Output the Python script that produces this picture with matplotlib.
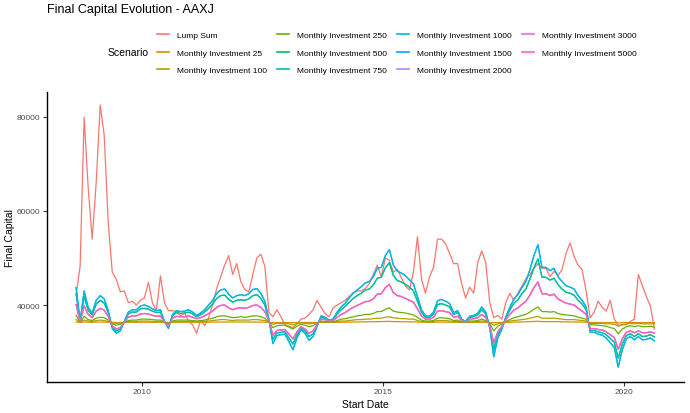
"""Final capital by start date: lump sum vs monthly investment scenarios (AAXJ)"""
import matplotlib
matplotlib.use('Agg')
import matplotlib.pyplot as plt
from matplotlib.lines import Line2D
import numpy as np

plt.rcParams['font.family'] = ['Liberation Sans', 'DejaVu Sans']

# start dates: monthly, Aug 2008 .. Aug 2020 (decimal years)
start_year = 2008.63
n_months = 145

lump_sum = [42000, 48300, 79900, 65000, 54000, 66000, 82500, 76000, 57500, 47000,
            45500, 42800, 43000, 40500, 40800, 40000, 41000, 41500, 44800, 40500,
            38800, 46200, 40500, 38800, 38800, 38600, 37700, 38300, 36600, 35800,
            34000, 36700, 35600, 37300, 40000, 43500, 46000, 48500, 50500, 46500,
            48800, 45000, 43300, 42800, 46500, 50000, 50800, 48200, 38500, 37500,
            39000, 37500, 35800, 35500, 35200, 36000, 37000, 37200, 38000, 39000,
            41000, 39500, 38200, 37500, 39400, 40000, 40500, 41000, 41800, 42600,
            43000, 43000, 43500, 44500, 46500, 48500, 46000, 50000, 49500, 47000,
            47600, 45800, 44000, 43200, 47000, 54500, 45500, 42500, 46000, 48000,
            54000, 54000, 53000, 51000, 48800, 48800, 44500, 41500, 43800, 42500,
            49000, 51500, 49000, 40500, 37300, 37800, 37000, 40500, 42500, 41000,
            42500, 44000, 45600, 46500, 47800, 48800, 47800, 47800, 46000, 47200,
            46300, 47500, 51000, 53200, 50300, 48500, 47500, 43000, 37300, 38500,
            40800, 39500, 38700, 41000, 37000, 35700, 35800, 35800, 36500, 37000,
            46500, 44100, 41800, 39800, 34900]

mi_25 = [36410, 36300, 36400, 36350, 36330, 36370, 36390, 36380, 36340, 36290,
         36280, 36280, 36300, 36330, 36340, 36340, 36350, 36360, 36350, 36340,
         36340, 36340, 36300, 36290, 36330, 36340, 36330, 36340, 36340, 36330,
         36320, 36330, 36340, 36360, 36370, 36390, 36400, 36410, 36390, 36380,
         36390, 36390, 36390, 36390, 36410, 36410, 36390, 36370, 36310, 36250,
         36270, 36270, 36280, 36260, 36240, 36270, 36290, 36280, 36260, 36270,
         36290, 36320, 36320, 36310, 36310, 36330, 36350, 36360, 36380, 36390,
         36400, 36410, 36430, 36430, 36450, 36470, 36480, 36510, 36530, 36480,
         36460, 36460, 36450, 36440, 36420, 36380, 36340, 36320, 36320, 36330,
         36370, 36370, 36370, 36360, 36330, 36340, 36310, 36300, 36320, 36320,
         36330, 36350, 36330, 36290, 36230, 36270, 36290, 36320, 36350, 36380,
         36390, 36410, 36430, 36470, 36510, 36550, 36480, 36480, 36470, 36470,
         36450, 36430, 36420, 36410, 36410, 36390, 36370, 36350, 36280, 36280,
         36280, 36270, 36270, 36260, 36250, 36200, 36240, 36270, 36270, 36260,
         36270, 36260, 36260, 36270, 36260]

mi_100 = [36900, 36300, 36800, 36600, 36500, 36700, 36800, 36700, 36500, 36200,
          36100, 36150, 36300, 36500, 36500, 36500, 36600, 36600, 36600, 36500,
          36500, 36500, 36300, 36200, 36400, 36500, 36500, 36500, 36500, 36500,
          36400, 36500, 36500, 36600, 36700, 36800, 36900, 36900, 36800, 36700,
          36800, 36800, 36800, 36800, 36900, 36900, 36800, 36700, 36400, 35900,
          36100, 36100, 36100, 36000, 35800, 36000, 36200, 36100, 36000, 36100,
          36200, 36400, 36400, 36300, 36400, 36500, 36600, 36600, 36700, 36800,
          36900, 36900, 37000, 37000, 37100, 37200, 37200, 37400, 37500, 37300,
          37200, 37100, 37100, 37000, 37000, 36700, 36500, 36400, 36400, 36500,
          36700, 36700, 36700, 36600, 36500, 36500, 36400, 36300, 36400, 36400,
          36500, 36600, 36500, 36200, 35700, 36000, 36200, 36400, 36600, 36700,
          36800, 36900, 37000, 37200, 37400, 37600, 37200, 37200, 37200, 37200,
          37100, 37000, 36900, 36900, 36900, 36800, 36700, 36600, 36100, 36100,
          36100, 36100, 36000, 36000, 35900, 35500, 35800, 36000, 36100, 36000,
          36100, 36000, 36000, 36000, 36000]

mi_250 = [37800, 36300, 37600, 36900, 36700, 37200, 37400, 37300, 36800, 36000,
          35700, 35900, 36300, 36700, 36800, 36800, 37000, 37000, 37000, 36900,
          36800, 36800, 36300, 36000, 36600, 36800, 36800, 36800, 36800, 36700,
          36600, 36700, 36800, 37000, 37200, 37500, 37700, 37700, 37500, 37300,
          37400, 37500, 37400, 37500, 37700, 37700, 37500, 37200, 36400, 35200,
          35600, 35700, 35700, 35300, 34900, 35500, 35900, 35700, 35400, 35600,
          36100, 36600, 36500, 36400, 36400, 36700, 37000, 37100, 37300, 37500,
          37700, 37800, 38000, 38000, 38200, 38600, 38600, 39100, 39400, 38700,
          38500, 38400, 38300, 38100, 37900, 37400, 36800, 36600, 36600, 36700,
          37200, 37300, 37200, 37100, 36700, 36800, 36400, 36300, 36600, 36600,
          36700, 37000, 36700, 36000, 34500, 35500, 35900, 36500, 36900, 37300,
          37500, 37800, 38000, 38500, 39100, 39600, 38600, 38600, 38500, 38600,
          38200, 38000, 37900, 37800, 37700, 37400, 37200, 37000, 35800, 35800,
          35700, 35600, 35500, 35200, 35000, 33900, 34900, 35400, 35600, 35400,
          35600, 35400, 35400, 35500, 35300]

mi_750 = [42400, 36500, 41800, 38900, 37900, 40200, 41000, 40400, 38400, 35300,
          34500, 34900, 36500, 38100, 38500, 38500, 39200, 39300, 39100, 38700,
          38400, 38500, 36500, 35300, 37700, 38400, 38200, 38300, 38500, 38100,
          37500, 37900, 38500, 39300, 40200, 41400, 42000, 42100, 41200, 40600,
          41000, 41100, 41000, 41300, 42000, 42200, 41400, 40000, 36900, 32700,
          34100, 34200, 34300, 33000, 31700, 33700, 35100, 34500, 33300, 33900,
          35700, 37400, 37200, 36700, 36900, 38100, 39000, 39700, 40600, 41400,
          42000, 42500, 43200, 43400, 44300, 45700, 45900, 47900, 49000, 46300,
          45200, 44900, 44400, 43800, 43000, 40800, 38500, 37400, 37400, 38100,
          40100, 40300, 40000, 39600, 38000, 38400, 36900, 36500, 37400, 37500,
          37900, 39000, 38100, 35400, 30500, 33700, 35100, 37300, 38900, 40400,
          41100, 42400, 43400, 45500, 47900, 49800, 45900, 45900, 45300, 45700,
          44300, 43400, 42700, 42500, 42100, 41000, 40200, 39000, 34600, 34600,
          34300, 34100, 33700, 32900, 32100, 28700, 31700, 33500, 33900, 33300,
          33900, 33300, 33400, 33700, 33200]

mi_1000 = [43700, 36500, 43000, 39500, 38300, 41000, 42000, 41300, 38800, 35000,
           34000, 34500, 36500, 38500, 39000, 39000, 39800, 40000, 39700, 39200,
           38800, 39000, 36500, 35000, 38000, 38800, 38600, 38700, 39000, 38500,
           37800, 38300, 39000, 40000, 41000, 42500, 43200, 43400, 42300, 41500,
           42000, 42200, 42000, 42400, 43300, 43500, 42500, 40800, 37000, 31800,
           33500, 33700, 33800, 32200, 30500, 33000, 34800, 34000, 32500, 33300,
           35500, 37700, 37400, 36800, 37000, 38500, 39600, 40400, 41500, 42500,
           43200, 43900, 44700, 45000, 46000, 47800, 48000, 50500, 51800, 48500,
           47200, 46800, 46200, 45400, 44500, 41800, 39000, 37700, 37600, 38500,
           40900, 41200, 40800, 40300, 38400, 38800, 37000, 36500, 37600, 37800,
           38200, 39600, 38500, 35200, 29000, 33000, 34800, 37500, 39500, 41300,
           42200, 43700, 45000, 47500, 50500, 52800, 48000, 48000, 47300, 47800,
           46000, 45000, 44100, 43800, 43400, 42000, 41000, 39600, 34200, 34200,
           33800, 33600, 33000, 32000, 31000, 26800, 30500, 32800, 33300, 32600,
           33300, 32600, 32700, 33000, 32400]

mi_5000 = [40100, 36400, 39800, 38000, 37300, 38700, 39300, 38900, 37600, 35500,
           34900, 35200, 36400, 37400, 37700, 37700, 38100, 38200, 38100, 37800,
           37600, 37700, 36400, 35500, 37200, 37600, 37500, 37500, 37700, 37400,
           37100, 37300, 37700, 38200, 38700, 39500, 39900, 40000, 39400, 39000,
           39300, 39400, 39300, 39500, 39900, 40000, 39500, 38600, 36700, 33600,
           34600, 34700, 34800, 33800, 32800, 34300, 35400, 34900, 34000, 34500,
           35800, 37000, 36900, 36600, 36700, 37400, 38000, 38400, 39000, 39500,
           39900, 40300, 40700, 40800, 41300, 42300, 42400, 43700, 44400, 42600,
           42000, 41800, 41400, 41000, 40600, 39200, 37700, 37000, 37000, 37400,
           38700, 38800, 38600, 38400, 37400, 37600, 36700, 36400, 37000, 37100,
           37300, 38000, 37400, 35600, 31900, 34300, 35400, 36900, 38000, 38900,
           39400, 40100, 40800, 42100, 43700, 44900, 42400, 42400, 42000, 42300,
           41300, 40800, 40400, 40200, 40000, 39300, 38700, 38000, 35000, 35000,
           34800, 34700, 34300, 33700, 33100, 30600, 32800, 34200, 34500, 34100,
           34500, 34100, 34100, 34300, 34000]

# scenarios whose lines sit underneath others in the chart
mi_500 = mi_750
mi_1500 = mi_1000
mi_2000 = mi_5000
mi_3000 = mi_5000

scenarios = ['Lump Sum', 'Monthly Investment 25', 'Monthly Investment 100',
             'Monthly Investment 250', 'Monthly Investment 500',
             'Monthly Investment 750', 'Monthly Investment 1000',
             'Monthly Investment 1500', 'Monthly Investment 2000',
             'Monthly Investment 3000', 'Monthly Investment 5000']
series = [lump_sum, mi_25, mi_100, mi_250, mi_500, mi_750, mi_1000,
          mi_1500, mi_2000, mi_3000, mi_5000]
# ggplot hue palette, 11 levels
colors = ['#F8766D', '#DB8E00', '#AEA200', '#64B200', '#00BD5C', '#00C1A7',
          '#00BADE', '#00A5FF', '#B385FF', '#EF67EB', '#FF63B6']
hidden = {'Monthly Investment 500', 'Monthly Investment 1500',
          'Monthly Investment 2000', 'Monthly Investment 3000'}

years = start_year + np.arange(n_months) / 12

fig = plt.figure(figsize=(6.9, 4.14), dpi=100)
ax = fig.add_axes([0.0677, 0.075, 0.9233, 0.7])

for i, (name, vals, col) in enumerate(zip(scenarios, series, colors)):
    z = 2 if name == 'Lump Sum' else (2.5 if name in hidden else 3 + i * 0.01)
    ax.plot(years, vals, color=col, lw=0.9, zorder=z)

ax.set_xlim(2008.02, 2021.24)
ax.set_ylim(23650, 85240)
ax.set_xticks([2010, 2015, 2020])
ax.set_yticks([40000, 60000, 80000])
ax.set_xticklabels(['2010', '2015', '2020'])
ax.set_yticklabels(['40000', '60000', '80000'])

for side in ['top', 'right']:
    ax.spines[side].set_visible(False)
for side in ['left', 'bottom']:
    ax.spines[side].set_linewidth(1.0)
    ax.spines[side].set_color('black')
ax.tick_params(length=3, width=0.8, color='#333333', labelsize=6,
               labelcolor='#4D4D4D', pad=1.5)

ax.set_xlabel('Start Date', fontsize=7.5, labelpad=3)
ax.set_ylabel('Final Capital', fontsize=7.5, labelpad=1.5)

fig.text(46.7 / 690, 1 - 10.5 / 414, 'Final Capital Evolution - AAXJ',
         fontsize=9, ha='left', va='center')

# legend: 3 rows, filled by column, title on the left
handles = [Line2D([0], [0], color=c, lw=1.2) for c in colors]
fig.legend(handles, scenarios, loc='upper left', ncol=4, frameon=False,
           bbox_to_anchor=(157 / 690, 1 - 32.5 / 414), fontsize=6,
           handlelength=1.45, handletextpad=0.95, columnspacing=1.2,
           labelspacing=1.15, borderpad=0, borderaxespad=0)
fig.text(108 / 690, 1 - 52.7 / 414, 'Scenario', fontsize=7.5,
         ha='left', va='center')

fig.savefig('out.png', dpi=100)
